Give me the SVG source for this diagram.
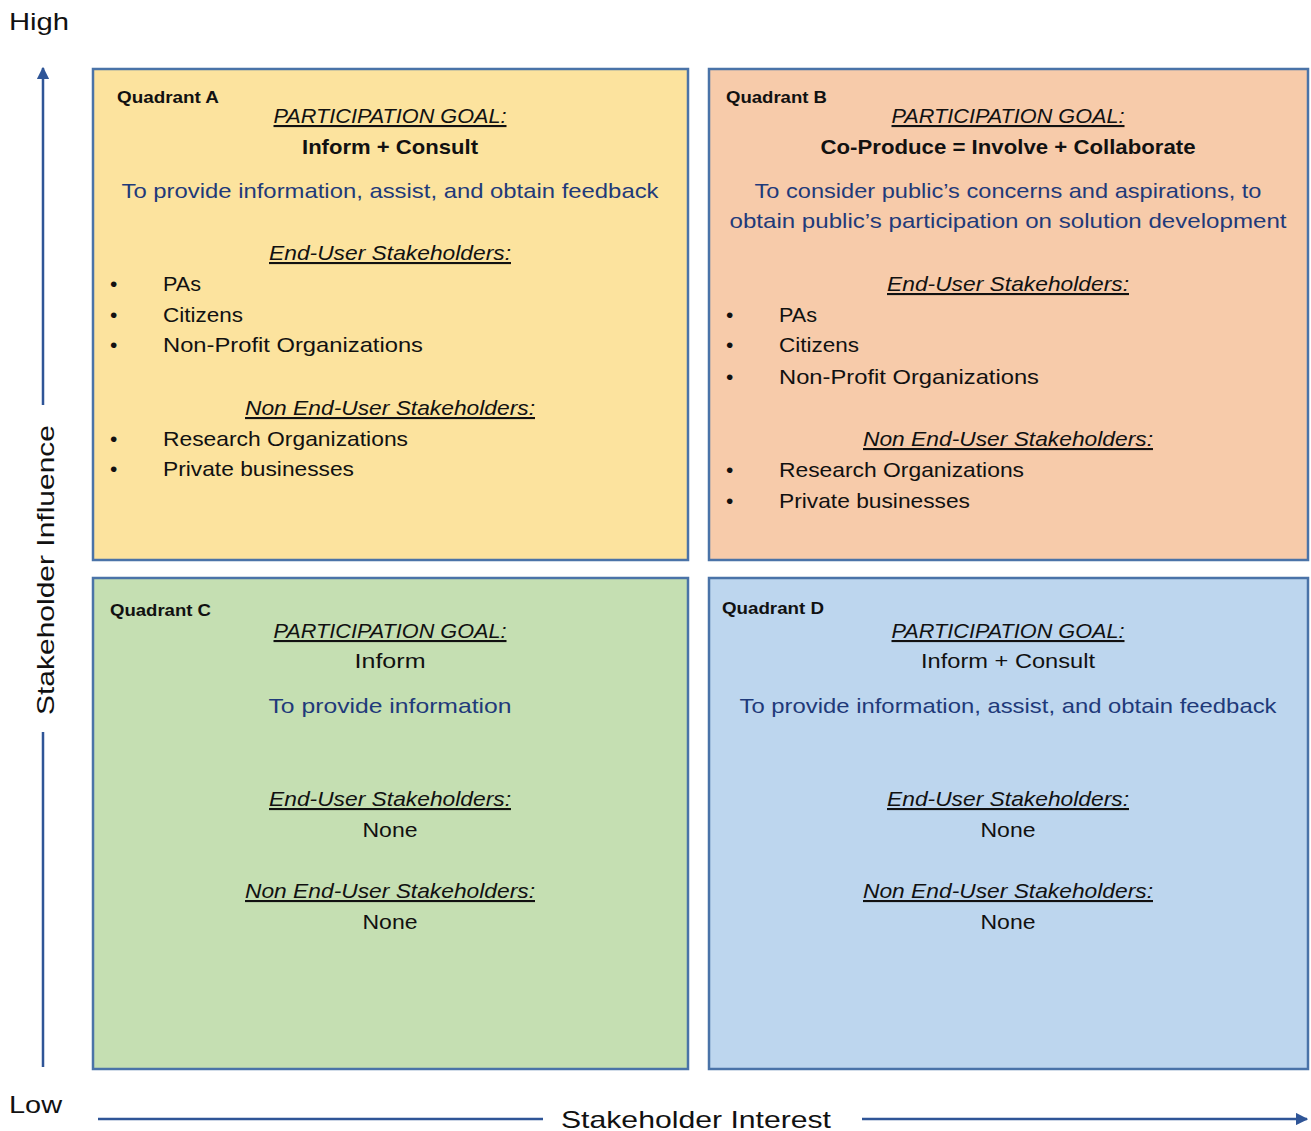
<svg xmlns="http://www.w3.org/2000/svg" width="1311" height="1131" viewBox="0 0 1311 1131">
<style>
text{font-family:"Liberation Sans",Arial,sans-serif;fill:#111}
.q{font-weight:bold;font-size:16px}
.h{font-style:italic;text-decoration:underline;font-size:21px;text-anchor:middle}
.g{font-weight:bold;font-size:21px;text-anchor:middle}
.gn{font-size:21px;text-anchor:middle}
.b{fill:#1F3A7A;font-size:21px;text-anchor:middle}
.li{font-size:21px}
.ax{font-size:24px}
.box{stroke:#4A73A8;stroke-width:2.5}
.axis{stroke:#2F5597;stroke-width:2.5;fill:none}
</style>
<defs>
<marker id="arr" viewBox="0 0 10 10" refX="9" refY="5" markerWidth="5" markerHeight="5" orient="auto" markerUnits="strokeWidth">
<path d="M0,0 L10,5 L0,10 z" fill="#2F5597"/>
</marker>
</defs>

<g id="axes">
<line class="axis" x1="43" y1="405" x2="43" y2="68" marker-end="url(#arr)"/>
<line class="axis" x1="43" y1="1067" x2="43" y2="732"/>
<line class="axis" x1="98" y1="1119" x2="543" y2="1119"/>
<line class="axis" x1="862" y1="1119" x2="1307" y2="1119" marker-end="url(#arr)"/>
<text class="ax" x="9" y="30" textLength="60" lengthAdjust="spacingAndGlyphs">High</text>
<text class="ax" x="9" y="1113" textLength="53" lengthAdjust="spacingAndGlyphs">Low</text>
<text class="ax" x="561" y="1128" textLength="270" lengthAdjust="spacingAndGlyphs">Stakeholder Interest</text>
<text class="ax" transform="translate(54,715) rotate(-90)" x="0" y="0" textLength="290" lengthAdjust="spacingAndGlyphs">Stakeholder Influence</text>
</g>

<g id="quadrantA">
<rect class="box" x="93" y="69" width="595" height="491" fill="#FCE39E"/>
<text class="q" x="117" y="103" textLength="102" lengthAdjust="spacingAndGlyphs">Quadrant A</text>
<text class="h" x="390" y="123" textLength="233" lengthAdjust="spacingAndGlyphs">PARTICIPATION GOAL:</text>
<text class="g" x="390" y="154" textLength="176" lengthAdjust="spacingAndGlyphs">Inform + Consult</text>
<text class="b" x="390" y="198" textLength="537" lengthAdjust="spacingAndGlyphs">To provide information, assist, and obtain feedback</text>
<text class="h" x="390" y="260" textLength="242" lengthAdjust="spacingAndGlyphs">End-User Stakeholders:</text>
<text class="li" x="110" y="291">•</text><text class="li" x="163" y="291" textLength="38" lengthAdjust="spacingAndGlyphs">PAs</text>
<text class="li" x="110" y="322">•</text><text class="li" x="163" y="322" textLength="80" lengthAdjust="spacingAndGlyphs">Citizens</text>
<text class="li" x="110" y="352">•</text><text class="li" x="163" y="352" textLength="260" lengthAdjust="spacingAndGlyphs">Non-Profit Organizations</text>
<text class="h" x="390" y="415" textLength="290" lengthAdjust="spacingAndGlyphs">Non End-User Stakeholders:</text>
<text class="li" x="110" y="446">•</text><text class="li" x="163" y="446" textLength="245" lengthAdjust="spacingAndGlyphs">Research Organizations</text>
<text class="li" x="110" y="476">•</text><text class="li" x="163" y="476" textLength="191" lengthAdjust="spacingAndGlyphs">Private businesses</text>
</g>

<g id="quadrantB">
<rect class="box" x="709" y="69" width="599" height="491" fill="#F7CBAA"/>
<text class="q" x="726" y="103" textLength="101" lengthAdjust="spacingAndGlyphs">Quadrant B</text>
<text class="h" x="1008" y="123" textLength="233" lengthAdjust="spacingAndGlyphs">PARTICIPATION GOAL:</text>
<text class="g" x="1008" y="154" textLength="375" lengthAdjust="spacingAndGlyphs">Co-Produce = Involve + Collaborate</text>
<text class="b" x="1008" y="198" textLength="507" lengthAdjust="spacingAndGlyphs">To consider public’s concerns and aspirations, to</text>
<text class="b" x="1008" y="228" textLength="557" lengthAdjust="spacingAndGlyphs">obtain public’s participation on solution development</text>
<text class="h" x="1008" y="291" textLength="242" lengthAdjust="spacingAndGlyphs">End-User Stakeholders:</text>
<text class="li" x="726" y="322">•</text><text class="li" x="779" y="322" textLength="38" lengthAdjust="spacingAndGlyphs">PAs</text>
<text class="li" x="726" y="352">•</text><text class="li" x="779" y="352" textLength="80" lengthAdjust="spacingAndGlyphs">Citizens</text>
<text class="li" x="726" y="384">•</text><text class="li" x="779" y="384" textLength="260" lengthAdjust="spacingAndGlyphs">Non-Profit Organizations</text>
<text class="h" x="1008" y="446" textLength="290" lengthAdjust="spacingAndGlyphs">Non End-User Stakeholders:</text>
<text class="li" x="726" y="477">•</text><text class="li" x="779" y="477" textLength="245" lengthAdjust="spacingAndGlyphs">Research Organizations</text>
<text class="li" x="726" y="508">•</text><text class="li" x="779" y="508" textLength="191" lengthAdjust="spacingAndGlyphs">Private businesses</text>
</g>

<g id="quadrantC">
<rect class="box" x="93" y="578" width="595" height="491" fill="#C5DFB2"/>
<text class="q" x="110" y="616" textLength="101" lengthAdjust="spacingAndGlyphs">Quadrant C</text>
<text class="h" x="390" y="638" textLength="233" lengthAdjust="spacingAndGlyphs">PARTICIPATION GOAL:</text>
<text class="gn" x="390" y="668" textLength="71" lengthAdjust="spacingAndGlyphs">Inform</text>
<text class="b" x="390" y="713" textLength="243" lengthAdjust="spacingAndGlyphs">To provide information</text>
<text class="h" x="390" y="806" textLength="242" lengthAdjust="spacingAndGlyphs">End-User Stakeholders:</text>
<text class="gn" x="390" y="837" textLength="55" lengthAdjust="spacingAndGlyphs">None</text>
<text class="h" x="390" y="898" textLength="290" lengthAdjust="spacingAndGlyphs">Non End-User Stakeholders:</text>
<text class="gn" x="390" y="929" textLength="55" lengthAdjust="spacingAndGlyphs">None</text>
</g>

<g id="quadrantD">
<rect class="box" x="709" y="578" width="599" height="491" fill="#BDD6EE"/>
<text class="q" x="722" y="614" textLength="102" lengthAdjust="spacingAndGlyphs">Quadrant D</text>
<text class="h" x="1008" y="638" textLength="233" lengthAdjust="spacingAndGlyphs">PARTICIPATION GOAL:</text>
<text class="gn" x="1008" y="668" textLength="174" lengthAdjust="spacingAndGlyphs">Inform + Consult</text>
<text class="b" x="1008" y="713" textLength="537" lengthAdjust="spacingAndGlyphs">To provide information, assist, and obtain feedback</text>
<text class="h" x="1008" y="806" textLength="242" lengthAdjust="spacingAndGlyphs">End-User Stakeholders:</text>
<text class="gn" x="1008" y="837" textLength="55" lengthAdjust="spacingAndGlyphs">None</text>
<text class="h" x="1008" y="898" textLength="290" lengthAdjust="spacingAndGlyphs">Non End-User Stakeholders:</text>
<text class="gn" x="1008" y="929" textLength="55" lengthAdjust="spacingAndGlyphs">None</text>
</g>
</svg>
